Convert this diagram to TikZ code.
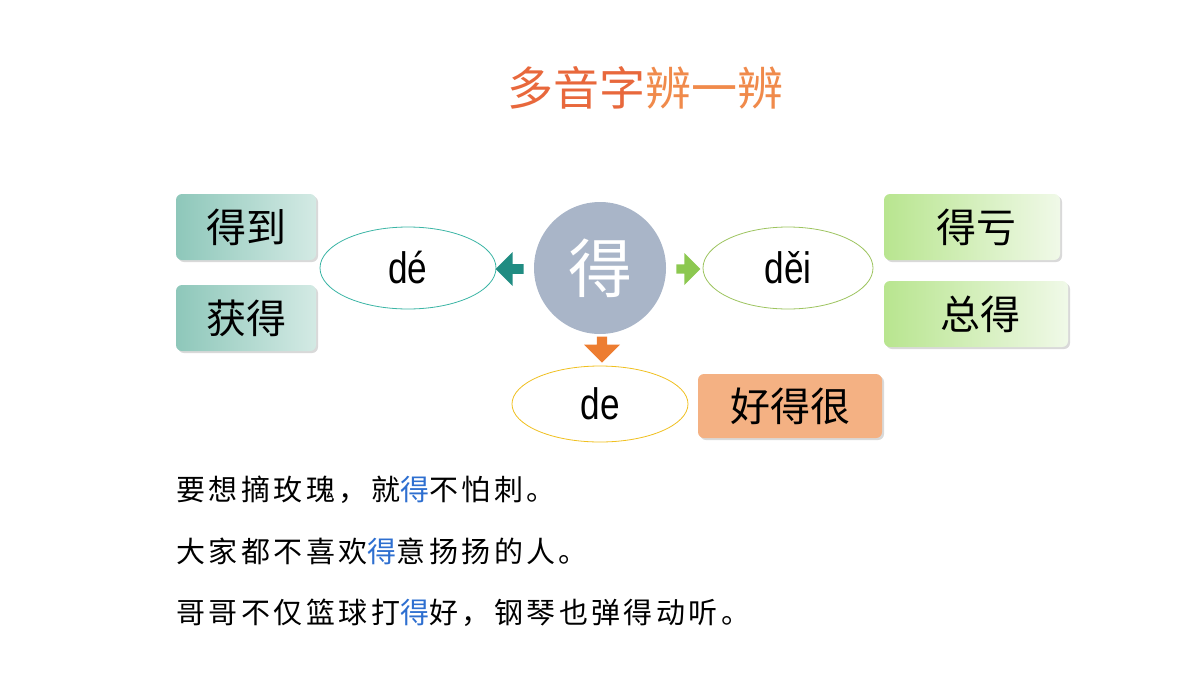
\documentclass[tikz,border=0pt]{standalone}
\usepackage{fontspec}
\usepackage{graphicx}
\setmainfont{Liberation Sans}
\newfontfamily\cjk{Noto Sans CJK SC}
\newfontfamily\cjksp[LetterSpace=12]{Noto Sans CJK SC}
\usetikzlibrary{shapes.arrows,shapes.geometric,shadows}
\definecolor{teal1}{HTML}{8EC7BA}
\definecolor{teal2}{HTML}{D3EAE4}
\definecolor{grn1}{HTML}{B8E58F}
\definecolor{grn2}{HTML}{F0F9E8}
\definecolor{blu}{HTML}{2E6FD0}
\definecolor{tealedge}{HTML}{3BB5A5}
\newcommand{\pinyintext}[1]{\scalebox{0.8}[1]{\fontsize{44}{48}\selectfont #1}}
\tikzset{
  wbox/.style={rounded corners=6pt, minimum height=66pt, font=\cjk\fontsize{40}{44}\selectfont, drop shadow={shadow xshift=2pt,shadow yshift=-2pt,opacity=0.3}},
  pin/.style={ellipse, fill=white, minimum width=176pt, minimum height=82pt, line width=0.8pt, inner sep=0pt},
  sent/.style={anchor=west, font=\cjksp\fontsize{29}{32}\selectfont, inner sep=0pt}
}
\begin{document}
\begin{tikzpicture}[x=1pt,y=-1pt]
\useasboundingbox (0,0) rectangle (1200,675);
\node (title) at (645,88) {\cjk\fontsize{46}{50}\selectfont\textcolor[HTML]{E8683C}{多音字}\textcolor[HTML]{F08A4B}{辨一辨}};
\node[wbox, left color=teal1, right color=teal2, minimum width=140pt] (b1) at (246,227) {得到};
\node[wbox, left color=teal1, right color=teal2, minimum width=140pt] (b2) at (246,318) {获得};
\node[pin, draw=tealedge] (p1) at (408,268) {\pinyintext{dé}};
\node[circle, fill={rgb,255:red,169;green,181;blue,200}, minimum size=132pt, text=white, font=\cjk\fontsize{64}{68}\selectfont] (c) at (600,268) {得};
\node[single arrow, shape border rotate=180, fill={rgb,255:red,32;green,140;blue,130}, minimum height=28pt, minimum width=34pt, single arrow head extend=3pt, inner sep=1pt] (a1) at (512,269) {};
\node[single arrow, fill={rgb,255:red,140;green,200;blue,80}, minimum height=24pt, minimum width=32pt, single arrow head extend=3pt, inner sep=1pt] (a2) at (686,269) {};
\node[pin, draw={rgb,255:red,157;green,196;blue,95}, minimum width=170pt] (p2) at (788,268) {\pinyintext{děi}};
\node[wbox, left color=grn1, right color=grn2, minimum width=176pt] (b3) at (972,227) {\hspace*{8pt}得亏};
\node[wbox, left color=grn1, right color=grn2, minimum width=184pt] (b4) at (976,314) {\hspace*{8pt}总得};
\node[single arrow, shape border rotate=270, fill={rgb,255:red,237;green,125;blue,49}, minimum height=26pt, minimum width=36pt, single arrow head extend=3pt, inner sep=1pt] (a3) at (602,347) {};
\node[pin, draw={rgb,255:red,240;green,192;blue,32}, minimum height=76pt] (p3) at (600,404) {\pinyintext{de}};
\node[wbox, fill={rgb,255:red,244;green,177;blue,131}, minimum width=184pt, minimum height=64pt] (b5) at (790,406) {好得很};
\node[sent] (s1) at (176,490) {要想摘玫瑰，就\textcolor{blu}{得}不怕刺。};
\node[sent] (s2) at (176,551) {大家都不喜欢\textcolor{blu}{得}意扬扬的人。};
\node[sent] (s3) at (176,613) {哥哥不仅篮球打\textcolor{blu}{得}好，钢琴也弹得动听。};
\end{tikzpicture}
\end{document}
